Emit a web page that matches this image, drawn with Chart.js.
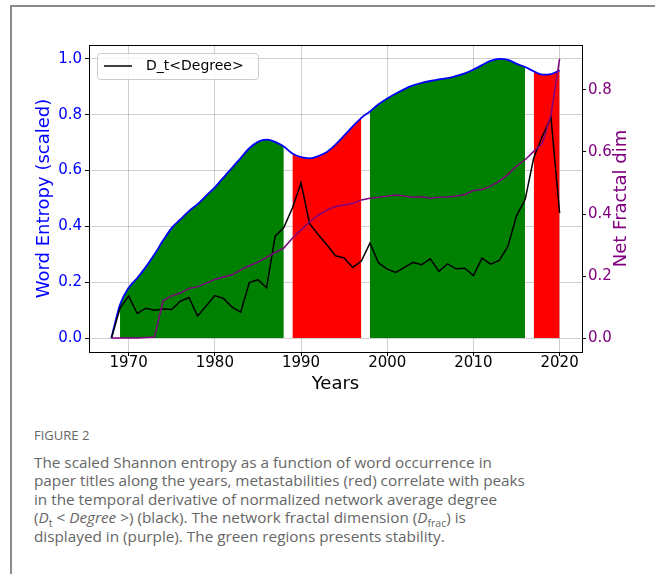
<!DOCTYPE html>
<html>
<head>
<meta charset="utf-8">
<script src="https://cdn.jsdelivr.net/npm/chart.js@4.4.0/dist/chart.umd.min.js"></script>
<style>
  body { margin: 0; background: #fff; }
  #page { position: relative; width: 655px; height: 574px; overflow: hidden; }
  #frame { position: absolute; left: 10px; top: 5px; width: 700px; height: 600px;
           border-left: 2px solid #8c8c8c; border-top: 2px solid #8c8c8c; }
  #chart { position: absolute; left: 0; top: 0; }
  #caption { position: absolute; left: 34px; top: 427px; font-family: "Open Sans"; color: #666; white-space: nowrap; }
  #caption .fig { font-size: 13px; line-height: 16px; }
  #caption p { font-size: 15.3px; line-height: 18.4px; margin: 10px 0 0 0; }
  #caption sub { font-size: 10.5px; line-height: 0; }
</style>
</head>
<body>
<div id="page">
  <div id="frame"></div>
  <canvas id="chart" width="655" height="395"></canvas>
  <div id="caption">
    <div class="fig">FIGURE 2</div>
    <p>The scaled Shannon entropy as a function of word occurrence in<br>
    paper titles along the years, metastabilities (red) correlate with peaks<br>
    in the temporal derivative of normalized network average degree<br>
    (<i>D</i><sub>t</sub> &lt; <i>Degree</i> &gt;) (black). The network fractal dimension (<i>D</i><sub>frac</sub>) is<br>
    displayed in (purple). The green regions presents stability.</p>
  </div>
</div>
<script>
// years on the x axis
const years = [1968, 1969, 1970, 1971, 1972, 1973, 1974, 1975, 1976, 1977,
  1978, 1979, 1980, 1981, 1982, 1983, 1984, 1985, 1986, 1987,
  1988, 1989, 1990, 1991, 1992, 1993, 1994, 1995, 1996, 1997,
  1998, 1999, 2000, 2001, 2002, 2003, 2004, 2005, 2006, 2007,
  2008, 2009, 2010, 2011, 2012, 2013, 2014, 2015, 2016, 2017,
  2018, 2019, 2020];

// word entropy (scaled), left axis
const entropy = [0.0, 0.12, 0.18, 0.215, 0.255, 0.30, 0.35, 0.395, 0.425, 0.455,
  0.48, 0.51, 0.54, 0.575, 0.61, 0.645, 0.68, 0.703, 0.711, 0.703,
  0.686, 0.661, 0.648, 0.644, 0.652, 0.667, 0.693, 0.725, 0.758, 0.789,
  0.812, 0.838, 0.858, 0.876, 0.892, 0.905, 0.914, 0.921, 0.927, 0.931,
  0.939, 0.948, 0.962, 0.978, 0.993, 1.0, 0.997, 0.983, 0.971, 0.956,
  0.944, 0.946, 0.959];

// D_t<Degree>, left axis
const degree = [0.0, 0.107, 0.150, 0.088, 0.107, 0.100, 0.104, 0.102, 0.132, 0.145,
  0.079, 0.115, 0.152, 0.142, 0.111, 0.093, 0.199, 0.209, 0.180, 0.365,
  0.396, 0.466, 0.556, 0.410, 0.370, 0.334, 0.295, 0.287, 0.253, 0.276,
  0.340, 0.269, 0.247, 0.235, 0.253, 0.271, 0.263, 0.284, 0.239, 0.266,
  0.248, 0.250, 0.224, 0.286, 0.265, 0.278, 0.328, 0.438, 0.496, 0.645,
  0.723, 0.791, 0.448];

// net fractal dimension, right axis
const fractal = [0.0, 0.0, 0.0, 0.0, 0.002, 0.003, 0.121, 0.136, 0.145, 0.160,
  0.165, 0.177, 0.189, 0.197, 0.204, 0.220, 0.233, 0.245, 0.260, 0.276,
  0.290, 0.322, 0.348, 0.375, 0.396, 0.413, 0.424, 0.429, 0.434, 0.445,
  0.451, 0.454, 0.458, 0.461, 0.458, 0.454, 0.456, 0.451, 0.454, 0.455,
  0.458, 0.462, 0.476, 0.479, 0.490, 0.506, 0.527, 0.554, 0.575, 0.602,
  0.627, 0.720, 0.900];

// stable (green) and metastable (red) periods
const regionStart = [1969, 1989, 1998, 2017];
const regionEnd = [1988, 1997, 2016, 2020];
const regionKind = ["stable", "meta", "stable", "meta"];

const xTicks = [1970, 1980, 1990, 2000, 2010, 2020];
const yTicks = [0, 0.2, 0.4, 0.6, 0.8, 1.0];
const y2Ticks = [0, 0.2, 0.4, 0.6, 0.8];

const BLUE = "#0000ff";
const PURPLE = "#800080";
const gridColor = "rgba(160,160,160,0.5)";
const tickFont = { family: "DejaVu Sans", size: 15 };
const titleFont = { family: "DejaVu Sans", size: 18 };

function pts(vals) {
  return years.map((y, i) => ({ x: y, y: vals[i] }));
}

const datasets = [
  {
    label: "net fractal",
    data: pts(fractal),
    yAxisID: "y2",
    borderColor: PURPLE,
    borderWidth: 1.5,
    pointRadius: 0,
    fill: false,
    order: 0,
  },
  {
    label: "D_t<Degree>",
    data: pts(degree),
    yAxisID: "y",
    borderColor: "#000",
    borderWidth: 1.5,
    pointRadius: 0,
    fill: false,
    order: 1,
  },
  {
    label: "entropy",
    data: pts(entropy),
    yAxisID: "y",
    borderColor: BLUE,
    borderWidth: 1.8,
    pointRadius: 0,
    cubicInterpolationMode: "monotone",
    fill: false,
    order: 2,
  },
];

regionStart.forEach((s, k) => {
  const col = regionKind[k] == "stable" ? "#008000" : "#ff0000";
  datasets.push({
    label: "region" + k,
    data: pts(entropy).filter((p) => p.x >= s && p.x <= regionEnd[k]),
    yAxisID: "y",
    borderWidth: 0,
    borderColor: col,
    backgroundColor: col,
    pointRadius: 0,
    cubicInterpolationMode: "monotone",
    fill: "origin",
    order: 3,
  });
});

// top spine, right axis title (reads upwards) and the legend box
const extras = {
  id: "extras",
  afterDraw(chart) {
    const ctx = chart.ctx;
    const a = chart.chartArea;
    ctx.save();
    ctx.strokeStyle = "#000";
    ctx.lineWidth = 1;
    ctx.beginPath();
    ctx.moveTo(a.left, a.top + 0.5);
    ctx.lineTo(a.right, a.top + 0.5);
    ctx.stroke();

    ctx.save();
    ctx.translate(621, (a.top + a.bottom) / 2);
    ctx.rotate(-Math.PI / 2);
    ctx.fillStyle = PURPLE;
    ctx.font = '18px "DejaVu Sans"';
    ctx.textAlign = "center";
    ctx.textBaseline = "middle";
    ctx.fillText("Net Fractal dim", 0, 0);
    ctx.restore();

    // legend
    const bx = 97, by = 53, bw = 161, bh = 26;
    ctx.beginPath();
    ctx.roundRect(bx + 0.5, by + 0.5, bw, bh, 3);
    ctx.fillStyle = "rgba(255,255,255,0.8)";
    ctx.fill();
    ctx.strokeStyle = "#cccccc";
    ctx.stroke();
    ctx.beginPath();
    ctx.moveTo(104, 66);
    ctx.lineTo(132, 66);
    ctx.strokeStyle = "#000";
    ctx.lineWidth = 1.5;
    ctx.stroke();
    ctx.fillStyle = "#000";
    ctx.font = '14px "DejaVu Sans"';
    ctx.textAlign = "left";
    ctx.textBaseline = "middle";
    ctx.fillText(chart.data.datasets[1].label, 146, 66);
    ctx.restore();
  },
};

const ctx = document.getElementById("chart");
const chart = new Chart(ctx, {
  type: "line",
  data: { datasets: datasets },
  options: {
    responsive: false,
    animation: false,
    layout: { padding: { left: 0, right: 0, top: 45, bottom: 0 } },
    plugins: { legend: { display: false }, tooltip: { enabled: false } },
    scales: {
      x: {
        type: "linear",
        min: 1965.4,
        max: 2022.6,
        z: 1,
        afterBuildTicks: (ax) => { ax.ticks = xTicks.map((v) => ({ value: v })); },
        afterFit: (s) => { s.height = 43; },
        ticks: { color: "#000", font: tickFont, padding: -2, autoSkip: false, maxRotation: 0,
                 callback: (v) => String(v) },
        grid: { color: gridColor, tickColor: "#000", tickLength: 4, lineWidth: 1 },
        border: { color: "#000", width: 1 },
        title: { display: true, text: "Years", color: "#000", font: titleFont,
                 padding: { top: 0, bottom: 0 } },
      },
      y: {
        position: "left",
        min: -0.05,
        max: 1.05,
        z: 1,
        afterBuildTicks: (ax) => { ax.ticks = yTicks.map((v) => ({ value: v })); },
        afterFit: (s) => { s.width = 89; },
        ticks: { color: BLUE, font: tickFont, padding: 3, autoSkip: false,
                 callback: (v) => v.toFixed(1) },
        grid: { color: gridColor, tickColor: "#000", tickLength: 4, lineWidth: 1 },
        border: { color: "#000", width: 1 },
        title: { display: true, text: "Word Entropy (scaled)", color: BLUE, font: titleFont,
                 padding: { top: 34, bottom: 0 } },
      },
      y2: {
        position: "right",
        min: -0.045,
        max: 0.945,
        z: 1,
        afterBuildTicks: (ax) => { ax.ticks = y2Ticks.map((v) => ({ value: v })); },
        afterFit: (s) => { s.width = 73; },
        ticks: { color: PURPLE, font: tickFont, padding: 2, autoSkip: false,
                 callback: (v) => v.toFixed(1) },
        grid: { drawOnChartArea: false, tickColor: "#000", tickLength: 4 },
        border: { color: "#000", width: 1 },
      },
    },
  },
  plugins: [extras],
});
</script>
</body>
</html>
